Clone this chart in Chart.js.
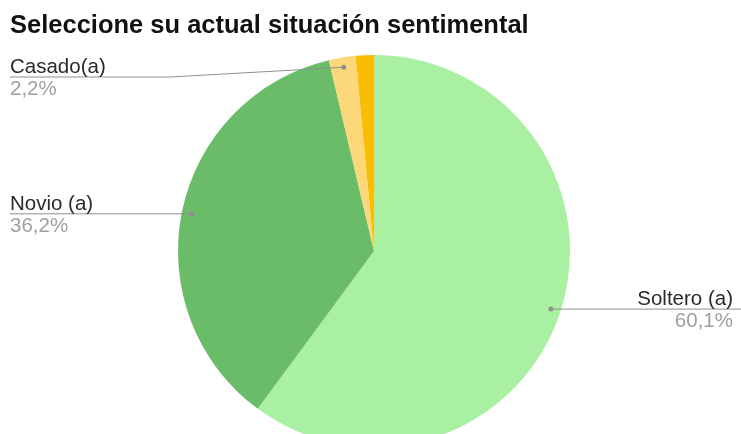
<!DOCTYPE html>
<html>
<head>
<meta charset="utf-8">
<script src="https://cdn.jsdelivr.net/npm/chart.js@4/dist/chart.umd.min.js"></script>
<style>
  html, body { margin: 0; padding: 0; background: #fff; overflow: hidden; }
  #wrap { position: relative; width: 741px; height: 447px; }
</style>
</head>
<body>
<div id="wrap"><canvas id="c"></canvas></div>
<script>
const chartTitle = 'Seleccione su actual situación sentimental';
const categories = ['Soltero (a)', 'Novio (a)', 'Casado(a)', 'Otro'];
const percentValues = [60.1, 36.2, 2.2, 1.5];
const sliceColors = ['#a9f0a3', '#6bbc68', '#fcd87a', '#fbbc04'];
const showLabel = [true, true, true, false];

const fmtPct = v => v.toFixed(1).replace('.', ',') + '%';

const leaderPlugin = {
  id: 'leaders',
  afterDatasetsDraw(chart) {
    const ctx = chart.ctx;
    const meta = chart.getDatasetMeta(0);
    const area = chart.chartArea;
    const total = percentValues.reduce((a, b) => a + b, 0);
    ctx.save();
    meta.data.forEach((arc, i) => {
      if (!showLabel[i]) return;
      const mid = (arc.startAngle + arc.endAngle) / 2;
      const r = arc.outerRadius * 0.95;
      const px = arc.x + Math.cos(mid) * r;
      const py = arc.y + Math.sin(mid) * r;
      const left = px < arc.x;
      const ly = Math.max(py, area.top + 22);
      const lineEnd = left ? 10 : chart.width;
      const textX = left ? 10 : chart.width - 8;
      ctx.strokeStyle = '#8f8f8f';
      ctx.lineWidth = 1;
      ctx.beginPath();
      ctx.moveTo(px, py);
      if (Math.abs(ly - py) > 1) {
        const bend = left ? lineEnd + 160 : lineEnd - 160;
        ctx.lineTo(bend, ly);
      }
      ctx.lineTo(lineEnd, ly);
      ctx.stroke();
      ctx.fillStyle = '#8f8f8f';
      ctx.beginPath();
      ctx.arc(px, py, 2.5, 0, Math.PI * 2);
      ctx.fill();
      ctx.font = '20.5px "Liberation Sans", Arial, sans-serif';
      ctx.textAlign = left ? 'left' : 'right';
      ctx.textBaseline = 'alphabetic';
      ctx.fillStyle = '#2a2a2a';
      ctx.fillText(categories[i], textX, ly - 4);
      ctx.fillStyle = '#a0a0a0';
      ctx.fillText(fmtPct(percentValues[i] / total * 100), textX, ly + 18);
    });
    ctx.restore();
  }
};

new Chart(document.getElementById('c'), {
  type: 'pie',
  data: {
    labels: categories,
    datasets: [{
      data: percentValues,
      backgroundColor: sliceColors,
      borderWidth: 0,
      hoverOffset: 0
    }]
  },
  options: {
    responsive: true,
    maintainAspectRatio: false,
    animation: false,
    layout: { padding: { left: 10, right: 3, top: 0, bottom: 0 } },
    plugins: {
      legend: { display: false },
      tooltip: { enabled: false },
      title: {
        display: true,
        text: chartTitle,
        align: 'start',
        color: '#111111',
        font: { family: '"Liberation Sans", Arial, sans-serif', size: 25.5, weight: 'bold' },
        padding: { top: 10.8, bottom: 13.6 }
      }
    }
  },
  plugins: [leaderPlugin]
});
</script>
</body>
</html>
